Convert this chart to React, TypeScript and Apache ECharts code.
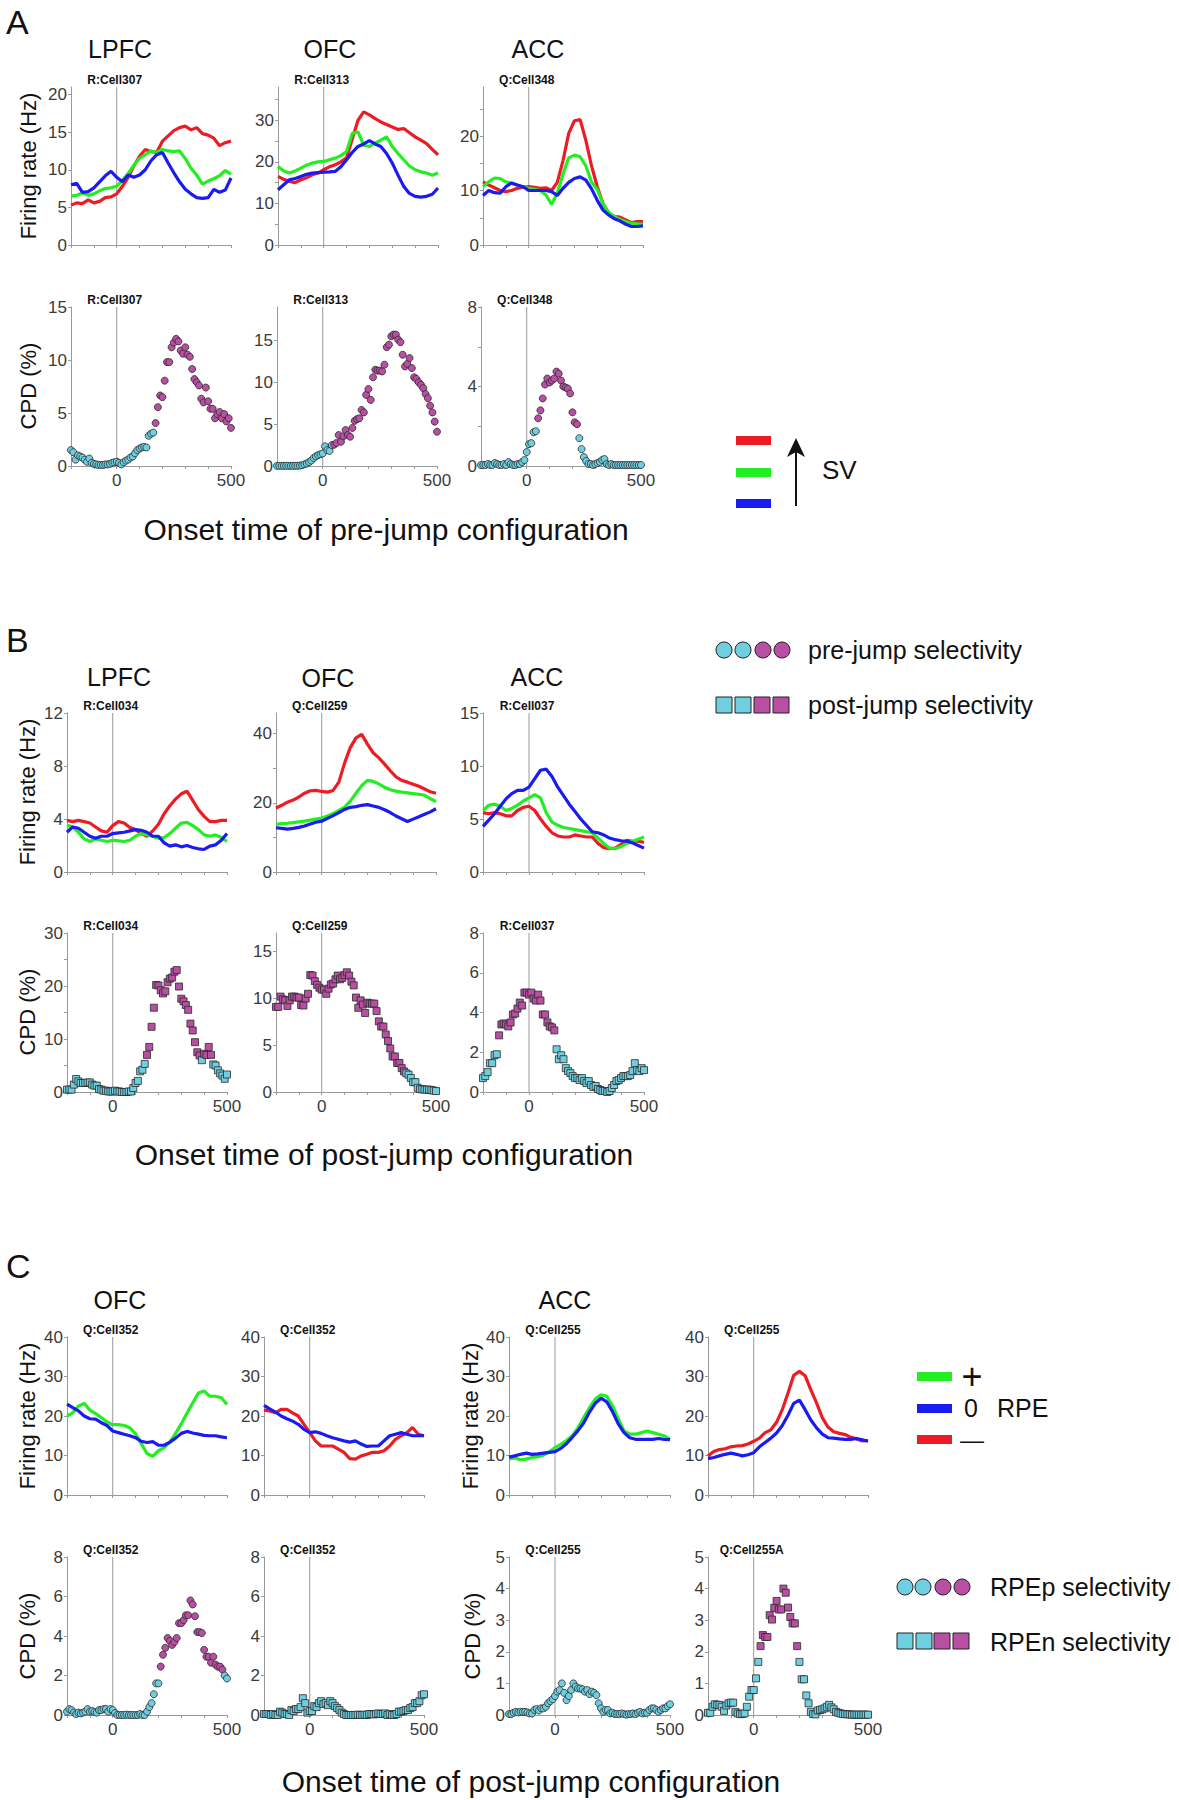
import React, { useEffect, useRef } from "react";
import * as echarts from "echarts";

const FONT = "'Liberation Sans', Arial, Helvetica, sans-serif";
const RED = "#ed1c24";
const GREEN = "#22ee22";
const BLUE = "#1a1af2";
const CYAN = "#6fcfe0";
const MAGENTA = "#b84fa2";
const AXIS = "#9a9a9a";
const TICK_TEXT = "#3a3a3a";

// ---------- time bases ----------
const FR_TIMES = [-200, -175, -150, -125, -100, -75, -50, -25, 0, 25, 50, 75, 100, 125, 150, 175, 200, 225, 250, 275, 300, 325, 350, 375, 400, 425, 450, 475, 500];
const CPD_TIMES = [-200, -190, -180, -170, -160, -150, -140, -130, -120, -110, -100, -90, -80, -70, -60, -50, -40, -30, -20, -10, 0, 10, 20, 30, 40, 50, 60, 70, 80, 90, 100, 110, 120, 130, 140, 150, 160, 170, 180, 190, 200, 210, 220, 230, 240, 250, 260, 270, 280, 290, 300, 310, 320, 330, 340, 350, 360, 370, 380, 390, 400, 410, 420, 430, 440, 450, 460, 470, 480, 490, 500];
const X_TICKS = [-200, -100, 0, 100, 200, 300, 400, 500];
const X_LABELS = [0, 500];

// ---------- Panel A : firing rates ----------
const aLpfcRed = [5.3, 5.6, 5.5, 6.0, 5.6, 5.8, 6.3, 6.4, 6.8, 7.8, 9.0, 10.5, 11.8, 12.7, 12.4, 12.3, 13.8, 14.5, 15.2, 15.6, 15.8, 15.3, 15.6, 14.8, 14.6, 14.2, 13.2, 13.6, 13.8];
const aLpfcGreen = [6.5, 6.6, 6.9, 6.6, 6.8, 7.2, 7.5, 7.6, 7.8, 8.6, 9.5, 10.6, 11.5, 12.0, 12.5, 12.3, 12.7, 12.5, 12.4, 12.5, 11.5, 10.2, 9.3, 8.1, 8.5, 8.8, 9.2, 9.9, 9.4];
const aLpfcBlue = [8.0, 8.2, 7.0, 7.1, 7.6, 8.4, 9.2, 9.8, 9.0, 8.4, 9.3, 9.0, 9.3, 10.0, 11.2, 12.0, 12.3, 10.9, 9.6, 8.4, 7.4, 6.8, 6.3, 6.2, 6.3, 7.4, 7.0, 7.3, 8.9];
const aOfcRed = [16.5, 15.8, 15.3, 15.0, 15.7, 16.2, 16.9, 17.3, 18.1, 18.8, 19.3, 20.0, 21.0, 25.5, 30.0, 32.0, 31.3, 30.4, 29.6, 29.0, 28.4, 27.8, 28.0, 27.0, 26.0, 25.2, 24.4, 23.0, 21.7];
const aOfcGreen = [18.9, 17.8, 17.3, 17.8, 18.5, 19.2, 19.7, 20.0, 20.1, 20.5, 20.9, 21.5, 22.5, 26.8, 27.2, 24.0, 23.7, 24.5, 25.2, 26.0, 23.7, 22.0, 20.5, 19.0, 18.1, 17.6, 17.3, 16.8, 17.3];
const aOfcBlue = [13.3, 14.5, 15.7, 16.0, 16.5, 17.0, 17.3, 17.4, 17.5, 17.6, 17.7, 18.8, 20.5, 22.3, 23.7, 24.3, 25.1, 24.3, 23.7, 22.0, 19.7, 16.8, 14.1, 12.4, 11.7, 11.5, 11.7, 12.2, 13.7];
const aAccRed = [11.6, 11.0, 10.5, 10.0, 9.8, 10.0, 10.4, 10.6, 10.7, 10.6, 10.4, 10.5, 10.0, 11.5, 15.5, 20.5, 22.8, 23.0, 19.2, 14.5, 10.7, 7.6, 5.8, 5.2, 5.1, 4.6, 4.1, 4.3, 4.3];
const aAccGreen = [10.7, 11.6, 12.3, 12.2, 11.6, 11.3, 11.0, 10.7, 10.4, 10.2, 10.0, 9.2, 7.5, 9.5, 13.0, 16.0, 16.5, 16.2, 14.5, 11.5, 10.2, 7.6, 6.0, 5.2, 4.7, 4.3, 4.0, 3.9, 3.8];
const aAccBlue = [9.1, 10.0, 9.6, 9.5, 10.7, 11.4, 11.0, 10.7, 10.0, 10.0, 10.0, 10.0, 9.8, 9.1, 10.4, 11.5, 12.2, 12.5, 11.9, 10.3, 8.2, 6.4, 5.5, 4.8, 4.4, 3.8, 3.4, 3.4, 3.5];

// ---------- Panel A : CPD ----------
const aLpfcCpd = [1.5, 1.3, 0.6, 1.0, 0.9, 0.8, 0.6, 0.4, 0.7, 0.3, 0.2, 0.15, 0.1, 0.1, 0.1, 0.15, 0.15, 0.2, 0.3, 0.35, 0.4, 0.3, 0.15, 0.35, 0.5, 0.6, 0.8, 0.9, 1.2, 1.5, 1.65, 1.75, 1.8, 1.75, 2.85, 3.05, 3.15, 4.05, 5.55, 6.65, 6.5, 8.05, 9.8, 9.8, 11.2, 11.65, 12.0, 11.75, 10.9, 10.6, 11.2, 10.5, 10.3, 9.15, 8.2, 7.9, 7.6, 6.35, 6.0, 7.4, 6.1, 5.4, 5.4, 4.5, 4.9, 5.1, 4.5, 4.9, 4.2, 4.5, 3.6];
const aOfcCpd = [0.02, 0.02, 0.02, 0.02, 0.02, 0.02, 0.02, 0.02, 0.02, 0.03, 0.05, 0.1, 0.2, 0.3, 0.45, 0.65, 0.95, 1.15, 1.3, 1.4, 1.5, 2.35, 1.9, 1.8, 2.5, 2.55, 2.75, 3.7, 2.9, 3.55, 4.3, 3.7, 3.5, 4.55, 5.4, 5.6, 5.7, 6.7, 6.4, 8.5, 9.2, 7.9, 10.6, 11.5, 11.4, 11.4, 11.3, 12.1, 14.2, 14.5, 15.5, 15.7, 15.7, 15.1, 14.8, 13.3, 11.9, 12.2, 12.9, 11.7, 10.6, 10.4, 10.0, 9.7, 9.3, 8.6, 8.1, 7.2, 6.4, 5.3, 4.1];
const aAccCpd = [0.05, 0.05, 0.05, 0.1, 0.05, 0.05, 0.15, 0.1, 0.05, 0.05, 0.1, 0.05, 0.2, 0.1, 0.05, 0.05, 0.1, 0.1, 0.2, 0.3, 0.7, 1.1, 1.15, 1.7, 1.75, 2.4, 2.8, 3.4, 4.1, 4.4, 4.2, 4.3, 4.4, 4.75, 4.65, 4.3, 4.0, 3.95, 3.9, 3.65, 2.7, 2.2, 2.1, 1.4, 0.85, 0.45, 0.25, 0.1, 0.1, 0.05, 0.1, 0.15, 0.2, 0.3, 0.35, 0.1, 0.05, 0.1, 0.05, 0.05, 0.05, 0.05, 0.05, 0.05, 0.05, 0.05, 0.05, 0.05, 0.05, 0.05, 0.05];
const aLpfcSig = [[170, 500]];
const aOfcSig = [[50, 500]];
const aAccSig = [[50, 220]];

// ---------- Panel B : firing rates ----------
const bLpfcRed = [3.9, 3.8, 3.9, 3.8, 3.7, 3.4, 3.1, 3.0, 3.5, 3.8, 3.7, 3.35, 3.2, 2.9, 2.7, 3.1, 3.6, 4.4, 5.0, 5.5, 5.9, 6.1, 5.4, 4.7, 4.2, 3.8, 3.8, 3.9, 3.9];
const bLpfcGreen = [3.55, 3.4, 3.0, 2.5, 2.3, 2.5, 2.4, 2.3, 2.4, 2.35, 2.3, 2.4, 2.7, 2.9, 2.8, 2.7, 2.55, 2.6, 2.9, 3.3, 3.7, 3.75, 3.5, 3.2, 2.8, 2.7, 2.8, 2.6, 2.3];
const bLpfcBlue = [3.0, 3.4, 3.3, 3.0, 2.7, 2.55, 2.7, 2.7, 2.9, 2.95, 3.0, 3.1, 3.2, 3.15, 3.0, 2.7, 2.7, 2.2, 1.95, 2.05, 1.9, 2.0, 1.85, 1.75, 1.7, 1.95, 2.05, 2.4, 2.9];
const bOfcRed = [18.5, 19.3, 20.2, 20.8, 21.7, 22.8, 23.5, 23.6, 23.3, 23.1, 23.6, 26.0, 31.5, 36.0, 38.8, 39.8, 37.0, 34.5, 33.0, 31.2, 29.3, 27.5, 26.5, 26.0, 25.4, 24.8, 24.0, 23.2, 22.8];
const bOfcGreen = [13.8, 14.0, 14.1, 14.3, 14.5, 14.7, 15.0, 15.3, 15.6, 16.2, 16.9, 17.8, 18.8, 20.5, 22.8, 25.0, 26.5, 26.2, 25.5, 24.5, 23.8, 23.4, 23.1, 22.9, 22.7, 22.5, 22.2, 21.2, 20.4];
const bOfcBlue = [12.8, 12.6, 12.4, 12.6, 12.9, 13.3, 13.9, 14.4, 14.7, 15.5, 16.3, 17.2, 18.1, 18.7, 18.9, 19.3, 19.5, 19.1, 18.7, 18.0, 17.2, 16.2, 15.4, 14.6, 15.3, 16.0, 16.7, 17.4, 18.3];
const bAccRed = [5.6, 5.5, 5.6, 5.5, 5.3, 5.3, 5.8, 6.1, 6.2, 5.8, 5.0, 4.3, 3.7, 3.4, 3.3, 3.3, 3.5, 3.4, 3.3, 3.3, 2.7, 2.3, 2.2, 2.25, 2.6, 3.0, 2.9, 2.9, 2.8];
const bAccGreen = [5.8, 6.3, 6.4, 6.2, 5.8, 6.0, 6.3, 6.7, 7.0, 7.3, 7.0, 5.6, 4.7, 4.4, 4.2, 4.1, 4.0, 3.9, 3.8, 3.7, 3.2, 2.7, 2.25, 2.2, 2.4, 2.7, 2.9, 3.1, 3.3];
const bAccBlue = [4.3, 4.9, 5.5, 6.2, 6.9, 7.4, 7.7, 7.7, 8.0, 8.8, 9.6, 9.7, 9.0, 8.0, 7.2, 6.4, 5.7, 5.0, 4.4, 3.8, 3.7, 3.5, 3.2, 3.05, 2.95, 2.9, 2.75, 2.5, 2.25];

// ---------- Panel B : CPD ----------
const bLpfcCpd = [0.45, 0.45, 0.45, 1.4, 2.45, 2.0, 1.7, 1.7, 1.7, 1.8, 1.8, 1.4, 1.2, 1.2, 0.55, 0.45, 0.25, 0.25, 0.1, 0.1, 0.1, 0.25, 0.1, 0.1, 0.0, 0.0, 0.0, 0.1, 0.1, 0.75, 1.7, 2.1, 3.9, 4.2, 5.3, 7.0, 8.5, 12.3, 15.9, 20.2, 20.1, 19.2, 18.6, 19.0, 20.7, 21.4, 21.6, 22.7, 23.0, 19.9, 17.6, 17.1, 16.4, 15.5, 12.9, 11.6, 9.4, 7.5, 6.9, 6.0, 7.2, 7.0, 8.5, 7.0, 5.2, 5.0, 4.1, 3.5, 3.1, 2.5, 3.3];
const bOfcCpd = [9.1, 9.1, 10.2, 9.9, 9.8, 9.2, 9.8, 10.2, 10.2, 10.1, 10.1, 9.3, 9.25, 10.0, 10.5, 12.5, 12.45, 11.85, 11.45, 11.15, 10.95, 10.95, 10.5, 11.05, 11.5, 11.6, 12.05, 12.45, 12.05, 12.2, 12.5, 12.8, 12.45, 11.8, 11.4, 10.1, 9.0, 9.8, 9.35, 8.45, 9.55, 9.45, 9.45, 9.45, 8.65, 7.55, 7.0, 7.0, 6.15, 5.45, 4.65, 3.8, 3.8, 3.1, 3.1, 2.55, 2.2, 2.0, 1.85, 1.5, 1.05, 1.05, 0.45, 0.3, 0.3, 0.25, 0.25, 0.25, 0.2, 0.15, 0.1];
const bAccCpd = [0.7, 0.8, 1.0, 1.45, 1.45, 1.85, 1.9, 2.85, 3.4, 3.45, 3.4, 3.3, 3.5, 3.9, 3.95, 4.2, 4.5, 4.35, 5.0, 5.0, 4.9, 5.0, 4.7, 4.6, 4.9, 4.6, 3.9, 3.9, 3.5, 3.3, 3.25, 3.1, 2.15, 1.65, 1.85, 1.65, 1.2, 1.05, 0.95, 0.8, 0.7, 0.7, 0.6, 0.7, 0.55, 0.45, 0.55, 0.35, 0.25, 0.3, 0.15, 0.1, 0.05, 0.05, 0.0, 0.05, 0.2, 0.35, 0.55, 0.6, 0.7, 0.8, 0.8, 0.8, 0.85, 1.05, 1.45, 1.1, 1.05, 1.2, 1.1];
const bLpfcSig = [[150, 380], [400, 430]];
const bOfcSig = [[-200, 360]];
const bAccSig = [[-130, 110]];

// ---------- Panel C : firing rates ----------
const cOfcPlusGreen = [20.0, 20.8, 22.5, 23.2, 21.5, 20.6, 19.6, 18.5, 17.8, 17.8, 17.6, 17.0, 15.5, 13.0, 10.5, 9.8, 11.2, 12.0, 13.4, 15.6, 18.0, 20.7, 23.3, 25.8, 26.3, 25.0, 25.0, 24.6, 22.9];
const cOfcPlusBlue = [23.0, 22.1, 21.3, 20.0, 19.3, 19.2, 18.3, 17.6, 16.2, 15.8, 15.4, 15.0, 14.5, 13.6, 13.3, 13.5, 12.6, 12.6, 13.4, 14.4, 15.6, 16.1, 15.7, 15.4, 15.1, 15.0, 15.0, 14.7, 14.5];
const cOfcMinusRed = [21.5, 21.3, 20.8, 21.7, 21.7, 20.8, 20.0, 17.9, 15.8, 13.7, 12.4, 12.4, 12.4, 11.6, 10.8, 9.2, 9.1, 9.9, 10.3, 10.8, 10.8, 11.2, 12.4, 14.1, 15.0, 15.8, 17.1, 15.4, 15.0];
const cOfcMinusBlue = [22.7, 21.8, 21.0, 20.0, 19.3, 18.7, 17.9, 16.6, 15.8, 16.0, 15.6, 15.0, 14.5, 14.1, 13.7, 13.4, 13.7, 12.9, 12.3, 12.4, 12.4, 13.7, 15.0, 15.4, 15.8, 15.4, 15.0, 15.0, 15.0];
const cAccPlusGreen = [9.1, 9.4, 8.9, 9.1, 9.5, 9.7, 10.1, 10.9, 12.0, 12.8, 13.8, 15.0, 17.0, 19.6, 22.1, 24.3, 25.4, 25.0, 22.6, 19.3, 16.2, 15.4, 15.4, 15.8, 16.2, 15.8, 15.4, 15.0, 14.1];
const cAccPlusBlue = [9.6, 9.9, 10.3, 10.6, 10.3, 10.4, 10.6, 10.8, 11.0, 11.8, 13.0, 14.6, 16.3, 18.3, 21.0, 23.2, 24.5, 23.6, 21.1, 18.0, 15.8, 14.5, 14.1, 14.1, 14.1, 14.1, 14.3, 14.1, 14.0];
const cAccMinusRed = [9.9, 11.0, 11.5, 11.7, 12.2, 12.4, 12.5, 12.9, 13.6, 14.4, 15.8, 16.5, 18.4, 21.6, 25.8, 30.3, 31.3, 30.2, 26.6, 23.3, 19.6, 17.2, 16.0, 15.6, 15.3, 14.6, 14.2, 13.7, 13.8];
const cAccMinusBlue = [9.2, 9.5, 9.9, 10.3, 10.6, 10.3, 9.9, 10.2, 10.7, 12.2, 13.3, 14.4, 15.7, 17.6, 20.2, 23.2, 24.0, 21.6, 19.0, 17.0, 15.4, 14.5, 14.4, 14.2, 14.1, 14.1, 14.3, 14.0, 13.6];

// ---------- Panel C : CPD ----------
const cOfcCpdP = [0.17, 0.3, 0.25, 0.13, 0.05, 0.12, 0.08, 0.12, 0.17, 0.3, 0.17, 0.2, 0.15, 0.12, 0.25, 0.25, 0.3, 0.3, 0.17, 0.3, 0.25, 0.1, 0.0, 0.0, 0.0, 0.0, 0.02, 0.0, 0.0, 0.0, 0.0, 0.0, 0.05, 0.0, 0.0, 0.17, 0.4, 0.6, 1.05, 1.6, 1.6, 2.45, 3.05, 3.4, 3.9, 3.75, 3.55, 3.7, 3.9, 4.65, 4.65, 4.8, 5.05, 5.05, 5.8, 5.6, 5.0, 4.2, 4.2, 4.15, 3.3, 2.95, 2.95, 2.65, 2.95, 2.55, 2.45, 2.45, 2.3, 2.0, 1.85];
const cOfcCpdN = [0.05, 0.05, 0.05, 0.0, 0.05, 0.0, 0.0, 0.17, 0.12, 0.05, 0.05, 0.0, 0.25, 0.2, 0.3, 0.3, 0.4, 0.85, 0.6, 0.12, 0.2, 0.2, 0.45, 0.4, 0.6, 0.7, 0.55, 0.6, 0.5, 0.7, 0.6, 0.45, 0.35, 0.25, 0.12, 0.05, 0.0, 0.0, 0.0, 0.0, 0.0, 0.02, 0.0, 0.0, 0.02, 0.0, 0.05, 0.05, 0.03, 0.05, 0.08, 0.05, 0.05, 0.08, 0.0, 0.05, 0.0, 0.0, 0.05, 0.17, 0.17, 0.2, 0.25, 0.25, 0.35, 0.4, 0.6, 0.6, 0.7, 1.0, 1.05];
const cAccCpdP = [0.03, 0.03, 0.07, 0.1, 0.08, 0.1, 0.1, 0.1, 0.08, 0.05, 0.05, 0.16, 0.19, 0.14, 0.21, 0.21, 0.26, 0.37, 0.44, 0.5, 0.6, 0.74, 0.79, 1.0, 0.7, 0.47, 0.6, 0.79, 1.0, 0.9, 0.84, 0.84, 0.81, 0.74, 0.79, 0.66, 0.74, 0.7, 0.63, 0.37, 0.21, 0.1, 0.16, 0.16, 0.05, 0.07, 0.03, 0.03, 0.03, 0.05, 0.03, 0.01, 0.03, 0.03, 0.05, 0.03, 0.07, 0.1, 0.05, 0.07, 0.07, 0.16, 0.21, 0.21, 0.16, 0.1, 0.16, 0.21, 0.21, 0.28, 0.34];
const cAccCpdN = [0.07, 0.07, 0.26, 0.34, 0.32, 0.32, 0.26, 0.13, 0.3, 0.37, 0.39, 0.39, 0.1, 0.05, 0.03, 0.03, 0.05, 0.26, 0.58, 0.79, 0.79, 1.16, 1.68, 2.18, 2.53, 2.47, 2.47, 3.16, 3.02, 3.39, 3.61, 3.34, 3.34, 4.0, 3.87, 3.4, 3.1, 2.9, 2.9, 2.18, 1.68, 1.13, 1.13, 0.62, 0.37, 0.1, 0.03, 0.02, 0.14, 0.16, 0.18, 0.21, 0.26, 0.32, 0.24, 0.18, 0.1, 0.07, 0.05, 0.03, 0.03, 0.02, 0.02, 0.01, 0.01, 0.01, 0.01, 0.01, 0.01, 0.01, 0.01];
const cOfcPSig = [[210, 480]];
const cOfcNSig: number[][] = [];
const cAccPSig: number[][] = [];
const cAccNSig = [[30, 190]];

// ---------- y-axis ticks / labels ----------
const Y_0_20_5 = [0, 5, 10, 15, 20];
const Y_0_30_10 = [0, 10, 20, 30];
const Y_0_20_10 = [0, 10, 20];
const Y_0_25_5 = [0, 5, 10, 15, 20, 25];
const Y_0_35_5 = [0, 5, 10, 15, 20, 25, 30, 35];
const Y_0_15_5 = [0, 5, 10, 15];
const Y_0_8_4 = [0, 4, 8];
const Y_0_8_2 = [0, 2, 4, 6, 8];
const Y_0_12_4 = [0, 4, 8, 12];
const Y_0_40_20 = [0, 20, 40];
const Y_0_40_10 = [0, 10, 20, 30, 40];
const Y_0_30_5 = [0, 5, 10, 15, 20, 25, 30];
const Y_0_5_1 = [0, 1, 2, 3, 4, 5];

// ---------- cell labels ----------
const aCells = ["R:Cell307", "R:Cell313", "Q:Cell348"];
const bCells = ["R:Cell034", "Q:Cell259", "R:Cell037"];
const cFrCells = ["Q:Cell352", "Q:Cell352", "Q:Cell255", "Q:Cell255"];
const cCpdCells = ["Q:Cell352", "Q:Cell352", "Q:Cell255", "Q:Cell255A"];

type Line = { color: string; values: number[] };
type Panel = {
  rect: number[];
  yMax: number;
  yLabels: number[];
  yTicks: number[];
  cell: string;
  lines?: Line[];
  cpd?: { values: number[]; shape: string; sig: number[][] };
};

const panels: Panel[] = [
  // A firing rate
  { rect: [71, 87, 231, 245], yMax: 21, yLabels: Y_0_20_5, yTicks: Y_0_20_5, cell: aCells[0], lines: [{ color: RED, values: aLpfcRed }, { color: GREEN, values: aLpfcGreen }, { color: BLUE, values: aLpfcBlue }] },
  { rect: [278, 87, 438, 245], yMax: 38, yLabels: Y_0_30_10, yTicks: Y_0_35_5, cell: aCells[1], lines: [{ color: RED, values: aOfcRed }, { color: GREEN, values: aOfcGreen }, { color: BLUE, values: aOfcBlue }] },
  { rect: [483, 87, 643, 245], yMax: 29, yLabels: Y_0_20_10, yTicks: Y_0_25_5, cell: aCells[2], lines: [{ color: RED, values: aAccRed }, { color: GREEN, values: aAccGreen }, { color: BLUE, values: aAccBlue }] },
  // A CPD
  { rect: [71, 307, 231, 466], yMax: 15, yLabels: Y_0_15_5, yTicks: Y_0_15_5, cell: aCells[0], cpd: { values: aLpfcCpd, shape: "circle", sig: aLpfcSig } },
  { rect: [277, 307, 437, 466], yMax: 19, yLabels: Y_0_15_5, yTicks: Y_0_15_5, cell: aCells[1], cpd: { values: aOfcCpd, shape: "circle", sig: aOfcSig } },
  { rect: [481, 307, 641, 466], yMax: 8, yLabels: Y_0_8_4, yTicks: Y_0_8_2, cell: aCells[2], cpd: { values: aAccCpd, shape: "circle", sig: aAccSig } },
  // B firing rate
  { rect: [67, 713, 227, 872], yMax: 12, yLabels: Y_0_12_4, yTicks: Y_0_12_4, cell: bCells[0], lines: [{ color: RED, values: bLpfcRed }, { color: GREEN, values: bLpfcGreen }, { color: BLUE, values: bLpfcBlue }] },
  { rect: [276, 713, 436, 872], yMax: 46, yLabels: Y_0_40_20, yTicks: Y_0_40_10, cell: bCells[1], lines: [{ color: RED, values: bOfcRed }, { color: GREEN, values: bOfcGreen }, { color: BLUE, values: bOfcBlue }] },
  { rect: [483, 713, 644, 872], yMax: 15, yLabels: Y_0_15_5, yTicks: Y_0_15_5, cell: bCells[2], lines: [{ color: RED, values: bAccRed }, { color: GREEN, values: bAccGreen }, { color: BLUE, values: bAccBlue }] },
  // B CPD
  { rect: [67, 933, 227, 1092], yMax: 30, yLabels: Y_0_30_10, yTicks: Y_0_30_5, cell: bCells[0], cpd: { values: bLpfcCpd, shape: "rect", sig: bLpfcSig } },
  { rect: [276, 933, 436, 1092], yMax: 17, yLabels: Y_0_15_5, yTicks: Y_0_15_5, cell: bCells[1], cpd: { values: bOfcCpd, shape: "rect", sig: bOfcSig } },
  { rect: [483, 933, 644, 1092], yMax: 8, yLabels: Y_0_8_2, yTicks: Y_0_8_2, cell: bCells[2], cpd: { values: bAccCpd, shape: "rect", sig: bAccSig } },
  // C firing rate
  { rect: [67, 1337, 227, 1495], yMax: 40, yLabels: Y_0_40_10, yTicks: Y_0_40_10, cell: cFrCells[0], lines: [{ color: GREEN, values: cOfcPlusGreen }, { color: BLUE, values: cOfcPlusBlue }] },
  { rect: [264, 1337, 424, 1495], yMax: 40, yLabels: Y_0_40_10, yTicks: Y_0_40_10, cell: cFrCells[1], lines: [{ color: RED, values: cOfcMinusRed }, { color: BLUE, values: cOfcMinusBlue }] },
  { rect: [509, 1337, 670, 1495], yMax: 40, yLabels: Y_0_40_10, yTicks: Y_0_40_10, cell: cFrCells[2], lines: [{ color: GREEN, values: cAccPlusGreen }, { color: BLUE, values: cAccPlusBlue }] },
  { rect: [708, 1337, 868, 1495], yMax: 40, yLabels: Y_0_40_10, yTicks: Y_0_40_10, cell: cFrCells[3], lines: [{ color: RED, values: cAccMinusRed }, { color: BLUE, values: cAccMinusBlue }] },
  // C CPD
  { rect: [67, 1557, 227, 1715], yMax: 8, yLabels: Y_0_8_2, yTicks: Y_0_8_2, cell: cCpdCells[0], cpd: { values: cOfcCpdP, shape: "circle", sig: cOfcPSig } },
  { rect: [264, 1557, 424, 1715], yMax: 8, yLabels: Y_0_8_2, yTicks: Y_0_8_2, cell: cCpdCells[1], cpd: { values: cOfcCpdN, shape: "rect", sig: cOfcNSig } },
  { rect: [509, 1557, 670, 1715], yMax: 5, yLabels: Y_0_5_1, yTicks: Y_0_5_1, cell: cCpdCells[2], cpd: { values: cAccCpdP, shape: "circle", sig: cAccPSig } },
  { rect: [708, 1557, 868, 1715], yMax: 5, yLabels: Y_0_5_1, yTicks: Y_0_5_1, cell: cCpdCells[3], cpd: { values: cAccCpdN, shape: "rect", sig: cAccNSig } },
];

function inSig(t: number, ranges: number[][]) {
  return ranges.some((r) => t >= r[0] && t <= r[1]);
}

function txt(text: string, x: number, y: number, size: number, opts: any = {}) {
  const align = opts.align || "left";
  return {
    type: "text",
    x,
    y,
    rotation: opts.rotation || 0,
    silent: true,
    style: {
      text,
      x: 0,
      y: 0,
      fill: opts.color || "#111",
      fontSize: size,
      fontFamily: opts.family || FONT,
      fontWeight: opts.weight || "normal",
      align,
      verticalAlign: "middle",
      textAlign: align,
      textVerticalAlign: "middle",
    },
  };
}

function buildOption() {
  const grid: any[] = [];
  const xAxis: any[] = [];
  const yAxis: any[] = [];
  const series: any[] = [];
  const graphic: any[] = [];

  panels.forEach((p, i) => {
    const [l, t, r, b] = p.rect;
    grid.push({ left: l, top: t, width: r - l, height: b - t, containLabel: false });
    const isCpd = !!p.cpd;
    xAxis.push({
      type: "value",
      gridIndex: i,
      min: -200,
      max: 500,
      axisLine: { show: true, onZero: false, lineStyle: { color: AXIS, width: 1 } },
      axisTick: { show: true, length: 3, customValues: X_TICKS, lineStyle: { color: AXIS } },
      axisLabel: { show: isCpd, customValues: X_LABELS, fontSize: 17, color: TICK_TEXT, fontFamily: FONT, margin: 6 },
      splitLine: { show: false },
    });
    yAxis.push({
      type: "value",
      gridIndex: i,
      min: 0,
      max: p.yMax,
      axisLine: { show: true, onZero: false, lineStyle: { color: AXIS, width: 1 } },
      axisTick: { show: true, length: 3, customValues: p.yTicks, lineStyle: { color: AXIS } },
      axisLabel: { show: true, customValues: p.yLabels, fontSize: 17, color: TICK_TEXT, fontFamily: FONT, margin: 4 },
      splitLine: { show: false },
    });
    // vertical reference line at time 0
    series.push({
      type: "line",
      xAxisIndex: i,
      yAxisIndex: i,
      data: [[0, 0], [0, p.yMax]],
      symbol: "none",
      lineStyle: { color: "#9a9a9a", width: 1 },
      z: 1,
      silent: true,
    });
    if (p.lines) {
      p.lines.forEach((ln) => {
        series.push({
          type: "line",
          xAxisIndex: i,
          yAxisIndex: i,
          data: FR_TIMES.map((x, k) => [x, ln.values[k]]),
          symbol: "none",
          lineStyle: { color: ln.color, width: 3.2 },
          itemStyle: { color: ln.color },
          z: 3,
          silent: true,
        });
      });
    }
    if (p.cpd) {
      const c = p.cpd;
      series.push({
        type: "scatter",
        xAxisIndex: i,
        yAxisIndex: i,
        symbol: c.shape,
        symbolSize: 7,
        data: CPD_TIMES.map((x, k) => ({
          value: [x, c.values[k]],
          itemStyle: { color: inSig(x, c.sig) ? MAGENTA : CYAN },
        })),
        itemStyle: { borderColor: "#2a2a2a", borderWidth: 0.8, opacity: 1 },
        z: 4,
        silent: true,
      });
    }
    // cell label above x = 0
    const x0 = l + ((r - l) * 200) / 700;
    graphic.push(txt(p.cell, x0 - 2, t - 7, 12, { align: "center", weight: "bold", color: "#111" }));
  });

  // panel letters
  graphic.push(txt("A", 6, 22, 34));
  graphic.push(txt("B", 6, 640, 34));
  graphic.push(txt("C", 6, 1266, 34));

  // region titles
  const titles: [string, number, number][] = [
    ["LPFC", 120, 49], ["OFC", 330, 49], ["ACC", 538, 49],
    ["LPFC", 119, 677], ["OFC", 328, 678], ["ACC", 537, 677],
    ["OFC", 120, 1300], ["ACC", 565, 1300],
  ];
  titles.forEach(([s, x, y]) => graphic.push(txt(s, x, y, 25, { align: "center" })));

  // y-axis titles
  const yTitles: [string, number, number][] = [
    ["Firing rate (Hz)", 28, 166], ["CPD (%)", 28, 386],
    ["Firing rate (Hz)", 27, 792], ["CPD (%)", 27, 1012],
    ["Firing rate (Hz)", 27, 1416], ["CPD (%)", 27, 1636],
    ["Firing rate (Hz)", 470, 1416], ["CPD (%)", 472, 1636],
  ];
  yTitles.forEach(([s, x, y]) => graphic.push(txt(s, x, y, 22, { align: "center", rotation: Math.PI / 2 })));

  // x-axis titles
  graphic.push(txt("Onset time of pre-jump configuration", 386, 529, 30, { align: "center" }));
  graphic.push(txt("Onset time of post-jump configuration", 384, 1154, 30, { align: "center" }));
  graphic.push(txt("Onset time of post-jump configuration", 531, 1781, 30, { align: "center" }));

  // legend A (SV)
  const bar = (x: number, y: number, c: string) => ({ type: "rect", silent: true, shape: { x, y, width: 35, height: 9 }, style: { fill: c } });
  graphic.push(bar(736, 436, RED));
  graphic.push(bar(736, 468, GREEN));
  graphic.push(bar(736, 499, BLUE));
  graphic.push({ type: "line", silent: true, shape: { x1: 796, y1: 506, x2: 796, y2: 450 }, style: { stroke: "#111", lineWidth: 2 } });
  graphic.push({ type: "polygon", silent: true, shape: { points: [[787, 457], [796, 438], [805, 457], [796, 452]] }, style: { fill: "#111" } });
  graphic.push(txt("SV", 822, 470, 26));

  // legend B (selectivity)
  const circ = (cx: number, cy: number, c: string) => ({ type: "circle", silent: true, shape: { cx, cy, r: 8 }, style: { fill: c, stroke: "#222", lineWidth: 1 } });
  const sq = (x: number, y: number, c: string) => ({ type: "rect", silent: true, shape: { x, y, width: 16, height: 16 }, style: { fill: c, stroke: "#222", lineWidth: 1 } });
  [724, 743, 763, 782].forEach((cx, k) => graphic.push(circ(cx, 650, k < 2 ? CYAN : MAGENTA)));
  [716, 735, 754, 773].forEach((x, k) => graphic.push(sq(x, 697, k < 2 ? CYAN : MAGENTA)));
  graphic.push(txt("pre-jump selectivity", 808, 650, 25));
  graphic.push(txt("post-jump selectivity", 808, 705, 25));

  // legend C (RPE)
  graphic.push(bar(917, 1372, GREEN));
  graphic.push(bar(917, 1404, BLUE));
  graphic.push(bar(917, 1435, RED));
  graphic.push(txt("+", 972, 1376, 36, { align: "center" }));
  graphic.push(txt("0", 971, 1408, 25, { align: "center" }));
  graphic.push(txt("RPE", 997, 1408, 25));
  graphic.push(txt("—", 972, 1439, 24, { align: "center" }));
  [905, 923, 943, 962].forEach((cx, k) => graphic.push(circ(cx, 1587, k < 2 ? CYAN : MAGENTA)));
  [897, 916, 934, 953].forEach((x, k) => graphic.push(sq(x, 1633, k < 2 ? CYAN : MAGENTA)));
  graphic.push(txt("RPEp selectivity", 990, 1587, 25));
  graphic.push(txt("RPEn selectivity", 990, 1642, 25));

  return {
    animation: false,
    backgroundColor: "#ffffff",
    textStyle: { fontFamily: FONT },
    grid,
    xAxis,
    yAxis,
    series,
    graphic: { elements: graphic },
  };
}

export default function App() {
  const ref = useRef<HTMLDivElement>(null);
  useEffect(() => {
    if (!ref.current) return;
    const chart = echarts.init(ref.current, null, { renderer: "svg" });
    chart.setOption(buildOption() as any);
    return () => chart.dispose();
  }, []);
  return (
    <div
      ref={ref}
      style={{ position: "absolute", left: 0, top: 0, width: 1179, height: 1800, background: "#fff" }}
    />
  );
}
